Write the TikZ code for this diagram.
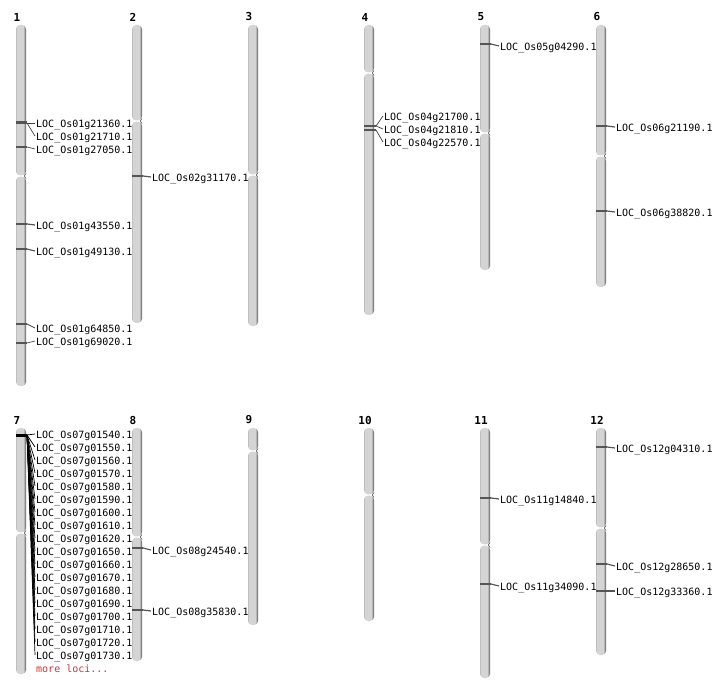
\documentclass[tikz,border=0pt]{standalone}
\usepackage{fontspec}
\setmonofont{DejaVu Sans Mono}
\usepackage{xcolor}
\definecolor{chrlight}{RGB}{212,212,212}
\definecolor{chredge}{RGB}{190,190,190}
\definecolor{chrdark}{RGB}{100,100,100}
\definecolor{markgray}{RGB}{85,85,85}
\definecolor{morered}{RGB}{204,51,51}
\pgfdeclarehorizontalshading{chromshade}{100bp}{color(0bp)=(chredge); color(25bp)=(chredge); color(29bp)=(chrlight); color(62bp)=(chrlight); color(73bp)=(chrdark); color(100bp)=(chrdark)}
\tikzset{%
	chrom arm/.style={
		shading=chromshade,
		rounded corners=4pt
	},
	chrom num/.style={
		font=\ttfamily\bfseries\fontsize{11}{11}\selectfont,
		inner sep=0pt
	},
	locus/.style={
		font=\ttfamily\fontsize{10}{10}\selectfont,
		anchor=west,
		inner sep=1pt,
		text height=9pt,
		text depth=0pt
	},
	marker/.style={draw=markgray, line width=1.2pt},
	link/.style={draw=black!75, line width=0.7pt},
}
% number, left edge, top, centromere, bottom
\newcommand{\chromosome}[5]{%
	\shade[chrom arm] (#2,#3) rectangle (#2+10,#4-0.6);
	\shade[chrom arm] (#2,#4+0.6) rectangle (#2+10,#5);
	\draw[chrdark, line width=0.7pt] (#2+10,#4-2.5) -- (#2+8.3,#4) -- (#2+10,#4+2.5);
	\node[chrom num] (num#1) at (#2+1,#3-8) {#1};
}

\begin{document}
\begin{tikzpicture}[x=1pt, y=-1pt]
	\useasboundingbox (0,0) rectangle (712,700);
	
	\chromosome{1}{16}{25}{176}{386}
	\chromosome{2}{132}{25}{121}{323}
	\chromosome{3}{248}{25}{175}{326}
	\chromosome{4}{364}{25}{73}{315}
	\chromosome{5}{480}{25}{133}{270}
	\chromosome{6}{596}{25}{156}{287}
	\chromosome{7}{16}{428}{533}{674}
	\chromosome{8}{132}{428}{537}{661}
	\chromosome{9}{248}{428}{451}{625}
	\chromosome{10}{364}{428}{495}{621}
	\chromosome{11}{480}{428}{545}{678}
	\chromosome{12}{596}{428}{528}{655}
	
	% chromosome 1
	\draw[marker, line width=3pt] (16,123) -- (27,123) coordinate (m1a);
	\draw[marker] (16,147) -- (27,147) coordinate (m1c);
	\draw[marker] (16,224) -- (27,224) coordinate (m1d);
	\draw[marker] (16,249) -- (27,249) coordinate (m1e);
	\draw[marker] (16,324) -- (27,324) coordinate (m1f);
	\draw[marker] (16,343) -- (27,343) coordinate (m1g);
	\node[locus] (l1a) at (35,123) {LOC\_Os01g21360.1};
	\node[locus] (l1b) at (35,136) {LOC\_Os01g21710.1};
	\node[locus] (l1c) at (35,149) {LOC\_Os01g27050.1};
	\node[locus] (l1d) at (35,225) {LOC\_Os01g43550.1};
	\node[locus] (l1e) at (35,251) {LOC\_Os01g49130.1};
	\node[locus] (l1f) at (35,328) {LOC\_Os01g64850.1};
	\node[locus] (l1g) at (35,341) {LOC\_Os01g69020.1};
	\draw[link] (m1a) -- (l1a.west);
	\draw[link] (m1a) -- (l1b.west);
	\draw[link] (m1c) -- (l1c.west);
	\draw[marker] (m1d) -- (l1d.west);
	\draw[marker] (m1e) -- (l1e.west);
	\draw[link] (m1f) -- (l1f.west);
	\draw[link] (m1g) -- (l1g.west);
	
	% chromosome 2
	\draw[marker] (132,176) -- (143,176) coordinate (m2a);
	\node[locus] (l2a) at (151,177) {LOC\_Os02g31170.1};
	\draw[marker] (m2a) -- (l2a.west);
	
	% chromosome 4
	\draw[marker] (364,126) -- (376,126) coordinate (m4a);
	\draw[marker] (364,130) -- (376,130) coordinate (m4c);
	\node[locus] (l4a) at (383,116) {LOC\_Os04g21700.1};
	\node[locus] (l4b) at (383,129) {LOC\_Os04g21810.1};
	\node[locus] (l4c) at (383,142) {LOC\_Os04g22570.1};
	\draw[link] (m4a) -- (l4a.west);
	\draw[link] (m4a) -- (l4b.west);
	\draw[link] (m4c) -- (l4c.west);
	
	% chromosome 5
	\draw[marker] (480,44) -- (491,44) coordinate (m5a);
	\node[locus] (l5a) at (499,46) {LOC\_Os05g04290.1};
	\draw[marker] (m5a) -- (l5a.west);
	
	% chromosome 6
	\draw[marker] (596,126) -- (607,126) coordinate (m6a);
	\draw[marker] (596,211) -- (607,211) coordinate (m6b);
	\node[locus] (l6a) at (615,127) {LOC\_Os06g21190.1};
	\node[locus] (l6b) at (615,212) {LOC\_Os06g38820.1};
	\draw[marker] (m6a) -- (l6a.west);
	\draw[marker] (m6b) -- (l6b.west);
	
	% chromosome 7
	\draw[marker, draw=black, line width=3pt] (16,435) -- (27,435) coordinate (m7);
	\foreach \loc [count=\i from 0] in {01540,01550,01560,01570,01580,01590,01600,01610,01620,01650,01660,01670,01680,01690,01700,01710,01720,01730}{
		\node[locus] (l7-\i) at (35,434+13*\i) {LOC\_Os07g\loc.1};
		\draw[link, draw=black] (m7) -- (l7-\i.west);
	}
	\node[locus, text=morered] (more7) at (35,668) {more loci...};
	
	% chromosome 8
	\draw[marker] (132,548) -- (143,548) coordinate (m8a);
	\draw[marker] (132,610) -- (143,610) coordinate (m8b);
	\node[locus] (l8a) at (151,550) {LOC\_Os08g24540.1};
	\node[locus] (l8b) at (151,611) {LOC\_Os08g35830.1};
	\draw[marker] (m8a) -- (l8a.west);
	\draw[marker] (m8b) -- (l8b.west);
	
	% chromosome 11
	\draw[marker] (480,498) -- (491,498) coordinate (m11a);
	\draw[marker] (480,584) -- (491,584) coordinate (m11b);
	\node[locus] (l11a) at (499,499) {LOC\_Os11g14840.1};
	\node[locus] (l11b) at (499,586) {LOC\_Os11g34090.1};
	\draw[marker] (m11a) -- (l11a.west);
	\draw[marker] (m11b) -- (l11b.west);
	
	% chromosome 12
	\draw[marker] (596,447) -- (607,447) coordinate (m12a);
	\draw[marker] (596,564) -- (607,564) coordinate (m12b);
	\draw[marker] (596,591) -- (607,591) coordinate (m12c);
	\node[locus] (l12a) at (615,448) {LOC\_Os12g04310.1};
	\node[locus] (l12b) at (615,566) {LOC\_Os12g28650.1};
	\node[locus] (l12c) at (615,591) {LOC\_Os12g33360.1};
	\draw[marker] (m12a) -- (l12a.west);
	\draw[marker] (m12b) -- (l12b.west);
	\draw[marker] (m12c) -- (l12c.west);
	
\end{tikzpicture}
\end{document}
